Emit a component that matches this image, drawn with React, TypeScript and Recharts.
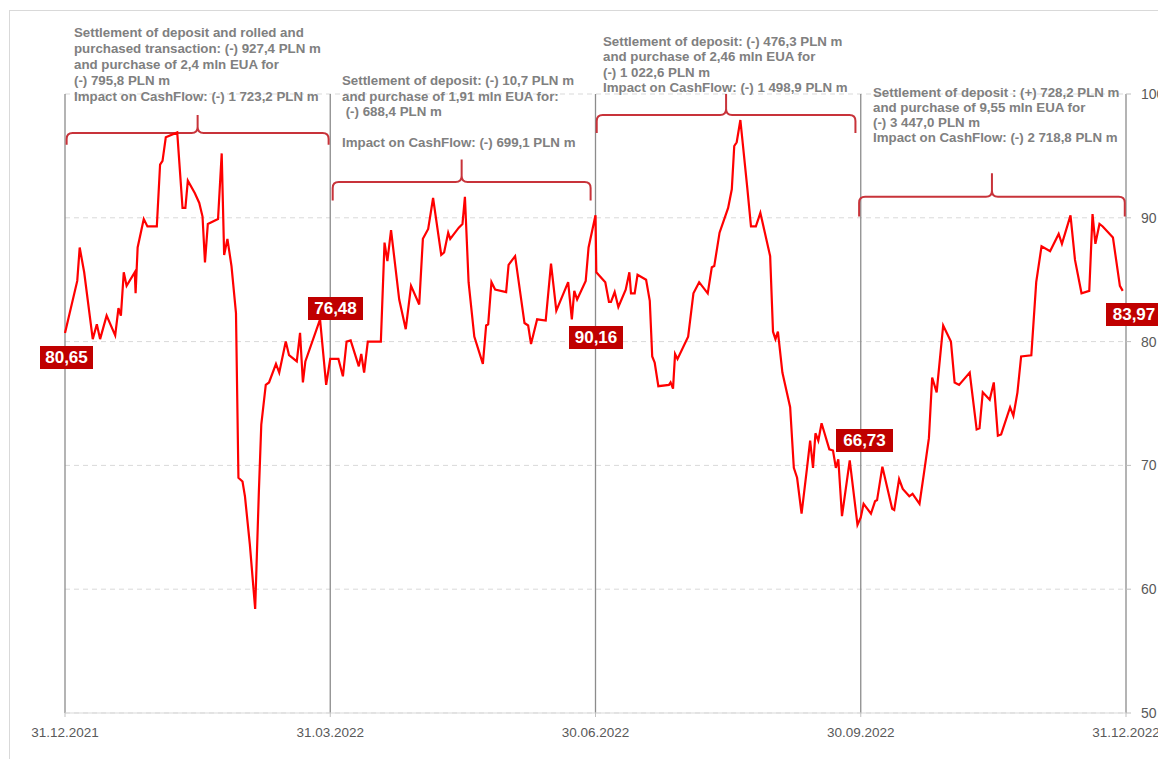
import { LineChart, Line, XAxis, YAxis, CartesianGrid, ReferenceArea } from "recharts";

// EUA price, trading-day position (65 per quarter) and price in EUR
const tradingDay = [
  0, 3.0, 3.6, 4.7, 6.8, 7.8, 8.6, 10.2, 12.3, 13.1, 13.7, 14.4, 15.1, 17.1, 17.3, 17.8, 19.3, 20.2, 22.5, 23.3,
  23.9, 24.7, 27.5, 28.8, 29.5, 30.1, 31.8, 32.9, 33.7, 34.3, 35.0, 37.5, 38.4, 39.0, 39.8, 40.8, 41.9, 42.5, 43.5,
  44.1, 45.3, 46.6, 47.5, 48.1, 49.2, 50.0, 51.7, 52.5, 54.1, 54.9, 56.8, 57.6, 58.3, 58.9, 62.5, 64.0, 65.0,
  67.0, 68.1, 69.0, 70.0, 72.0, 72.6, 73.3, 74.2, 77.4, 78.3, 79.0, 79.9, 81.9, 83.5, 84.8, 86.8, 87.7, 89.0, 90.2,
  92.2, 92.9, 93.9, 94.4, 96.5, 97.4, 98.0, 98.9, 100.3, 102.4, 103.2, 103.7, 104.5, 105.4, 108.1, 108.7, 110.3,
  112.6, 113.5, 114.2, 115.7, 117.8, 119.1, 120.4, 123.3, 124.2, 124.8, 125.5, 127.6, 128.3, 130.0,
  130.2, 132.4, 133.3, 133.8, 134.7, 135.6, 137.4, 138.3, 138.7, 139.6, 140.3, 142.4, 143.3, 143.9, 144.5, 145.4,
  148.0, 148.4, 149.0, 149.5, 150.1, 152.7, 154.0, 155.4, 157.5, 158.5, 159.1, 160.4, 162.5, 163.4, 164.0, 164.6,
  165.5, 167.2, 168.1, 169.3, 170.4, 172.8, 173.5, 174.1, 174.7, 175.8, 177.7, 178.6, 179.4, 180.5, 181.8, 182.6,
  183.3, 183.9, 184.6, 185.4, 187.3, 188.2, 188.9, 189.5, 190.4, 192.3, 194.2, 195.0,
  195.7, 197.5, 198.5, 199.0, 200.3, 202.7, 203.2, 204.4, 205.3, 206.9, 207.7, 209.4, 210.5, 211.7, 212.5, 213.6,
  215.2, 217.1, 218.0, 219.1, 221.7, 223.4, 224.1, 224.9, 226.6, 227.6, 228.6, 229.4, 231.6, 232.4, 233.4, 234.3,
  236.8, 238.0, 239.3, 241.4, 243.5, 244.3, 246.4, 247.5, 249.1, 251.0, 251.8, 252.5, 253.5, 254.3, 256.8, 258.5,
  259.2,
];
const price = [
  80.7, 84.9, 87.6, 85.6, 80.2, 81.4, 80.2, 82.1, 80.5, 82.7, 82.1, 85.6, 84.5, 85.6, 83.9, 87.6, 89.9, 89.3, 89.3, 94.3,
  94.6, 96.5, 96.9, 90.8, 90.8, 93.0, 92.0, 91.2, 90.1, 86.4, 89.5, 89.9, 95.2, 87.0, 88.3, 86.1, 82.3, 69.0, 68.7,
  67.5, 63.6, 58.4, 67.8, 73.3, 76.5, 76.7, 78.2, 77.5, 80.0, 78.9, 78.4, 80.7, 76.7, 78.4, 81.8, 76.5, 78.6,
  78.6, 77.2, 80.0, 80.1, 78.0, 79.0, 77.5, 80.0, 80.0, 88.0, 86.5, 89.0, 83.4, 81.0, 84.5, 83.0, 88.3, 89.1, 91.6,
  87.0, 87.2, 88.8, 88.3, 89.2, 89.5, 91.7, 84.8, 80.4, 78.2, 81.3, 81.4, 84.8, 84.2, 84.0, 86.2, 86.9,
  81.5, 81.3, 79.8, 81.8, 81.7, 86.3, 82.5, 84.8, 81.8, 84.1, 83.4, 84.9, 87.6, 90.2,
  85.6, 84.8, 83.2, 83.2, 84.0, 82.8, 84.2, 85.6, 83.9, 83.9, 85.4, 85.0, 83.3, 78.8, 78.3, 76.4,
  76.5, 76.7, 76.2, 79.0, 78.6, 80.4, 83.9, 84.8, 83.9, 86.0, 86.1, 88.8, 90.8, 92.3, 95.8, 96.1,
  97.9, 92.4, 89.3, 89.3, 90.4, 86.9, 80.8, 80.2, 80.8, 77.5, 74.7, 69.8, 69.0, 66.1, 69.7, 72.0,
  69.8, 72.6, 72.0, 73.4, 71.3, 71.2, 69.8, 70.5, 65.9, 70.4, 65.2, 65.8,
  66.9, 66.1, 67.1, 67.2, 69.9, 66.5, 66.4, 68.9, 68.1, 67.5, 67.7, 66.9, 69.4, 72.2, 77.1, 75.9,
  81.3, 80.0, 76.7, 76.5, 77.5, 72.9, 73.0, 75.9, 75.3, 76.7, 72.4, 72.5, 74.7, 74.0, 75.9, 78.8,
  78.9, 84.8, 87.7, 87.3, 88.7, 87.9, 90.2, 86.6, 83.9, 84.1, 90.3, 87.9, 89.5, 89.3, 88.4, 84.5,
  84.1,
];

const quarterTicks = [0, 65, 130, 195, 260];
const quarterLabels = ["31.12.2021", "31.03.2022", "30.06.2022", "30.09.2022", "31.12.2022"];
const quarterEndPrice = [80.65, 76.48, 90.16, 66.73, 83.97];
const priceTicks = [50, 60, 70, 80, 90, 100];

const notes = [
  [
    "Settlement of deposit and rolled and",
    "purchased transaction: (-) 927,4 PLN m",
    "and purchase of 2,4 mln EUA for",
    "(-) 795,8 PLN m",
    "Impact on CashFlow: (-) 1 723,2 PLN m",
  ],
  [
    "Settlement of deposit: (-) 10,7 PLN m",
    "and purchase of 1,91 mln EUA for:",
    " (-) 688,4 PLN m",
    "",
    "Impact on CashFlow: (-) 699,1 PLN m",
  ],
  [
    "Settlement of deposit: (-) 476,3 PLN m",
    "and purchase of 2,46 mln EUA for",
    "(-) 1 022,6 PLN m",
    "Impact on CashFlow: (-) 1 498,9 PLN m",
  ],
  [
    "Settlement of deposit : (+) 728,2 PLN m",
    "and purchase of 9,55 mln EUA for",
    "(-) 3 447,0 PLN m",
    "Impact on CashFlow: (-) 2 718,8 PLN m",
  ],
];

// layout of the overlays (pixels)
const noteBoxes = [
  { left: 74, top: 25, lineHeight: 16 },
  { left: 342, top: 73, lineHeight: 15.5 },
  { left: 603, top: 34, lineHeight: 15.3 },
  { left: 873, top: 85, lineHeight: 15 },
];
const labelBoxes = [
  { left: 40, top: 346, width: 53 },
  { left: 308, top: 297, width: 55 },
  { left: 569, top: 326, width: 54 },
  { left: 836, top: 429, width: 57 },
  { left: 1106, top: 303, width: 56 },
];
// curly brackets over each quarter, in chart units
const brackets = [
  { from: 0.4, to: 64.6, end: 95.9, bar: 96.85, tip: 98.3 },
  { from: 65.6, to: 128.8, end: 91.4, bar: 92.9, tip: 94.7 },
  { from: 130.3, to: 193.7, end: 96.85, bar: 98.3, tip: 100 },
  { from: 194.6, to: 259.7, end: 90.1, bar: 91.7, tip: 93.6 },
];

const series = tradingDay.map((t, i) => ({ t, price: price[i] }));
const FONT = "'Liberation Sans', Arial, sans-serif";

const makeBrace = (b: { end: number; bar: number; tip: number }) => (props: any) => {
  const { x, y, width, height } = props;
  const by = y + (height * (b.tip - b.bar)) / (b.tip - b.end);
  const cx = x + width / 2;
  const r = 6;
  const d = [
    `M${x},${y + height} L${x},${by + r} Q${x},${by} ${x + r},${by} L${cx - r},${by} Q${cx},${by} ${cx},${by - r} L${cx},${y}`,
    `M${cx},${by - r} Q${cx},${by} ${cx + r},${by} L${x + width - r},${by} Q${x + width},${by} ${x + width},${by + r} L${x + width},${y + height}`,
  ].join(" ");
  return <path d={d} fill="none" stroke="#c8333a" strokeWidth={2} />;
};

export default function App() {
  return (
    <div
      style={{
        position: "absolute",
        left: 0,
        top: 0,
        width: 1158,
        height: 759,
        overflow: "hidden",
        background: "#fff",
        fontFamily: FONT,
      }}
    >
      <div style={{ position: "absolute", left: 9, top: 10, width: 1, height: 749, background: "#d9d9d9" }} />
      <div style={{ position: "absolute", left: 9, top: 10, width: 1149, height: 1, background: "#d9d9d9" }} />
      <div style={{ position: "absolute", left: 0, top: 0 }}>
        <LineChart width={1158} height={759} data={series} margin={{ top: 94, right: 0, bottom: 14, left: 65 }}>
          <CartesianGrid horizontal vertical={false} stroke="#d9d9d9" strokeDasharray="5 4" />
          <CartesianGrid horizontal={false} vertical stroke="#8c8c8c" strokeWidth={1.3} />
          <XAxis
            dataKey="t"
            type="number"
            domain={[0, 260]}
            ticks={quarterTicks}
            interval={0}
            tickFormatter={(v: number) => quarterLabels[quarterTicks.indexOf(v)]}
            height={32}
            tickSize={4}
            tickMargin={10}
            axisLine={{ stroke: "#d9d9d9" }}
            tickLine={{ stroke: "#bfbfbf" }}
            tick={{ fill: "#595959", fontSize: 13.5, fontFamily: FONT }}
          />
          <YAxis
            orientation="right"
            domain={[50, 100]}
            ticks={priceTicks}
            interval={0}
            width={32}
            tickSize={5}
            tickMargin={10}
            axisLine={false}
            tickLine={{ stroke: "#bfbfbf" }}
            tick={{ fill: "#595959", fontSize: 14, fontFamily: FONT }}
          />
          {brackets.map((b, i) => (
            <ReferenceArea key={i} x1={b.from} x2={b.to} y1={b.end} y2={b.tip} ifOverflow="visible" shape={makeBrace(b)} />
          ))}
          <Line
            type="linear"
            dataKey="price"
            stroke="#ff0000"
            strokeWidth={2.2}
            dot={false}
            isAnimationActive={false}
          />
        </LineChart>
      </div>
      {notes.map((lines, i) => (
        <div
          key={i}
          style={{
            position: "absolute",
            left: noteBoxes[i].left,
            top: noteBoxes[i].top,
            lineHeight: `${noteBoxes[i].lineHeight}px`,
            fontSize: 13.3,
            fontWeight: 700,
            color: "#808080",
            whiteSpace: "pre",
          }}
        >
          {lines.map((l, j) => (
            <div key={j} style={{ height: noteBoxes[i].lineHeight }}>
              {l}
            </div>
          ))}
        </div>
      ))}
      {quarterEndPrice.map((v, i) => (
        <div
          key={i}
          style={{
            position: "absolute",
            left: labelBoxes[i].left,
            top: labelBoxes[i].top,
            width: labelBoxes[i].width,
            height: 23,
            lineHeight: "23px",
            background: "#c00000",
            color: "#fff",
            fontWeight: 700,
            fontSize: 17,
            textAlign: "center",
          }}
        >
          {v.toFixed(2).replace(".", ",")}
        </div>
      ))}
    </div>
  );
}
